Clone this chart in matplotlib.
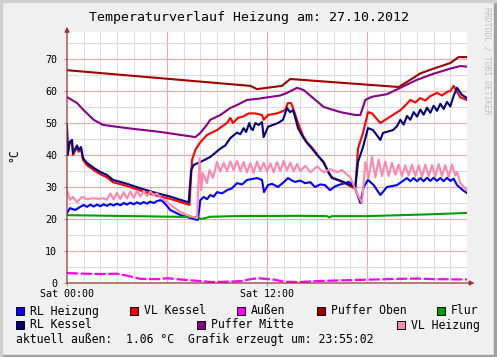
import numpy as np
import matplotlib
matplotlib.use('Agg')
import matplotlib.pyplot as plt
from matplotlib.patches import Rectangle

# Stunden seit Sat 00:00, Temperatur in °C
rl_heizung = np.array([[0,21.9],[0.18,23.4],[0.48,22.8],[0.78,23.75],[1.0,24.4],[1.2,23.8],[1.4,24.5],[1.6,23.9],[1.8,24.5],[2.0,24.0],[2.2,24.6],[2.4,24.1],[2.6,24.7],[2.8,24.2],[3.0,24.8],[3.2,24.3],[3.4,25.0],[3.6,24.5],[3.8,25.1],[4.0,24.6],[4.2,25.2],[4.4,24.7],[4.6,25.3],[4.8,24.8],[5.0,25.4],[5.2,25.0],[5.4,25.6],[5.6,25.9],[5.8,25.3],[6.2,22.8],[6.8,21.25],[7.4,20.3],[7.85,19.7],[8.0,25.9],[8.2,26.9],[8.4,26.2],[8.6,27.5],[8.8,27.0],[9.0,28.4],[9.3,28.0],[9.6,29.0],[9.9,29.6],[10.2,31.2],[10.5,30.8],[10.8,32.2],[11.1,32.5],[11.4,32.8],[11.7,32.2],[11.82,28.4],[12.06,30.6],[12.3,31.0],[12.66,30.0],[13.0,31.5],[13.26,32.8],[13.5,32.0],[13.68,31.6],[14.0,32.0],[14.28,31.2],[14.6,31.5],[14.88,30.0],[15.2,30.8],[15.48,30.6],[15.78,29.0],[16.08,30.2],[16.4,30.8],[16.68,31.2],[16.9,31.6],[17.2,30.6],[17.4,28],[17.6,25],[17.8,30],[18.06,32.2],[18.4,30.6],[18.8,27.5],[19.2,30],[19.8,30.6],[20.4,32.8],[20.6,31.8],[20.8,32.8],[21.0,31.8],[21.2,32.8],[21.4,31.8],[21.6,32.9],[21.8,31.9],[22.0,32.9],[22.2,31.9],[22.4,32.8],[22.6,31.8],[22.8,32.9],[23.0,31.9],[23.2,32.6],[23.4,30.6],[23.75,29],[24.0,28.1]])

vl_kessel = np.array([[0,47.8],[0.05,41],[0.15,43.5],[0.3,44],[0.36,40],[0.5,41.5],[0.6,42.5],[0.7,41],[0.84,42],[0.96,38.5],[1.2,36.8],[1.6,35.3],[2.0,34],[2.4,33],[2.76,31.5],[3.2,30.9],[3.6,30.3],[4.4,28.9],[5.1,27.7],[5.6,27],[6.2,26.3],[6.8,25.3],[7.35,24.4],[7.5,38.4],[7.7,41.6],[8.0,44],[8.4,46.25],[9.0,47.8],[9.6,50],[9.8,51.6],[9.96,50],[10.26,51.6],[10.56,52],[10.9,53],[11.3,53],[11.7,52.5],[11.8,51],[12.06,52.5],[12.4,52.8],[12.66,53.1],[13.08,54],[13.26,56.25],[13.44,56.25],[13.56,54.7],[13.86,50],[14.16,46],[14.4,44],[14.7,42.3],[15.0,40.3],[15.4,37.5],[15.7,34.6],[15.9,33],[16.5,31.6],[17.1,30],[17.3,29.5],[17.46,42],[17.76,46.9],[18.06,53.4],[18.3,53],[18.8,50],[19.4,52],[20.0,54],[20.3,55.5],[20.6,57.2],[20.9,56.4],[21.2,57.8],[21.5,57],[21.8,58.4],[22.2,59.4],[22.5,58.6],[22.8,59.7],[23.0,60],[23.2,61.6],[23.6,58],[24.0,57.2]])

aussen = np.array([[0,3.1],[1,2.9],[2,2.8],[3,2.9],[3.6,2.3],[4.4,1.3],[5.5,1.2],[6,1.5],[7,1.0],[8,0.6],[8.6,0.3],[9.6,0.4],[10.5,0.6],[11,1.2],[11.5,1.5],[12.5,1.0],[13,0.4],[14,0.3],[15,0.6],[17,0.9],[18.5,1.1],[20,1.3],[21,1.4],[22,1.2],[24,1.1]])

puffer_oben = np.array([[0,66.5],[11.0,61.6],[11.4,60.6],[12.0,61],[12.9,61.6],[13.1,62.5],[13.4,63.75],[19.9,61.25],[20.6,63.5],[21.2,65.5],[22.0,67],[23.0,68.75],[23.5,70.6],[24.0,70.6]])

flur = np.array([[0,21.2],[4,20.9],[7.8,20.6],[8.05,20.0],[8.3,20.3],[8.6,20.7],[10,20.9],[14,21.0],[15.6,20.9],[15.75,20.5],[15.9,20.9],[18,20.9],[20,21.2],[22,21.5],[24,21.9]])

rl_kessel = np.array([[0,49.4],[0.05,40],[0.15,44],[0.3,44.7],[0.36,40.6],[0.5,42],[0.6,43],[0.7,41.6],[0.84,42.5],[0.96,39],[1.2,37.5],[1.6,36],[2.0,34.7],[2.4,33.75],[2.76,32.2],[3.2,31.6],[3.6,31],[4.4,29.6],[5.1,28.5],[5.6,27.8],[6.2,27],[6.8,26],[7.3,25.2],[7.45,35.3],[7.6,36.9],[8.0,37.8],[8.6,39.4],[9.2,42],[9.5,43],[9.8,45.3],[10.2,47],[10.4,46.5],[10.6,48.4],[10.75,47.2],[10.94,50],[11.05,48.2],[11.15,47.8],[11.3,50],[11.5,49.4],[11.7,50.3],[11.8,45.6],[12.06,48.8],[12.4,49.5],[12.66,50],[12.96,51],[13.2,54.7],[13.38,53.4],[13.56,54],[13.68,52],[13.86,48.4],[14.16,45.6],[14.4,43.75],[14.7,42],[15.0,40],[15.4,37.8],[15.7,34.4],[15.9,32.8],[16.4,32],[17.0,30.6],[17.3,30],[17.46,37.8],[17.76,42.5],[18.06,48.4],[18.36,47.8],[18.8,44.7],[18.96,46.9],[19.56,47.8],[19.8,49],[20.0,51],[20.2,49.5],[20.4,52.2],[20.6,51],[20.8,53.4],[21.0,52],[21.2,54.2],[21.4,52.6],[21.6,54.8],[21.8,53.2],[22.0,55.4],[22.2,53.8],[22.4,56],[22.6,54.4],[22.8,56.6],[23.0,55.2],[23.2,58.5],[23.4,61],[23.7,58.75],[24.0,57.8]])

puffer_mitte = np.array([[0,58.1],[0.6,56.25],[1.0,54],[1.6,51],[2.16,49.4],[3.6,48.4],[5.6,47.2],[7.7,45.6],[8.0,46.9],[8.3,48.8],[8.6,51],[9.2,52.5],[9.8,54.7],[10.2,55.6],[10.8,57.2],[11.5,57.6],[12.0,58],[12.8,58.6],[13.2,59.4],[13.8,61],[14.2,60.3],[15.4,55],[16.4,53.4],[17.3,52.5],[17.6,52.5],[17.9,57.2],[18.3,58.2],[19.2,59],[20.0,61],[21.0,63.5],[22.0,65.4],[23.0,67],[23.6,67.8],[24.0,67.6]])

vl_heizung = np.array([[0,29],[0.18,26],[0.36,26.9],[0.6,25.3],[0.9,26.9],[1.2,26.2],[1.56,26.5],[1.9,26.3],[2.16,26.5],[2.4,26],[2.6,28],[2.8,26.1],[3.0,28.2],[3.2,26.2],[3.4,28.4],[3.6,26.4],[3.8,28.6],[4.0,26.6],[4.2,28.8],[4.4,27],[4.6,28.8],[4.8,27.2],[5.0,28.6],[5.2,27.4],[5.4,28],[5.6,26.8],[6.2,24.4],[6.8,22.2],[7.4,20.9],[7.8,20.3],[7.95,39],[8.05,29],[8.15,34.4],[8.4,31.2],[8.55,35.3],[8.75,32.8],[9.0,37.8],[9.2,34.8],[9.4,37.6],[9.6,35],[9.8,38],[10.0,35.2],[10.2,38.2],[10.4,35],[10.6,37.8],[10.8,34.6],[11.0,37.4],[11.2,34.4],[11.4,38],[11.6,35],[11.8,37.6],[12.0,34.8],[12.2,37.4],[12.4,34.6],[12.6,37.8],[12.8,35],[13.0,38.2],[13.2,35.2],[13.4,37.6],[13.6,34.8],[13.8,37.2],[14.0,35],[14.3,36.6],[14.6,34.6],[15.0,36.4],[15.4,34.6],[15.8,35.6],[16.2,34.6],[16.5,35.3],[17.0,33],[17.4,28],[17.7,25],[17.9,37.8],[18.1,32.8],[18.3,39.4],[18.5,33],[18.7,38.6],[18.9,33.4],[19.1,38],[19.3,33.4],[19.5,37.6],[19.7,33.8],[19.9,37],[20.1,33.4],[20.3,36.8],[20.5,33.6],[20.7,37],[20.9,33.4],[21.1,36.8],[21.3,33.2],[21.5,37],[21.7,33.4],[21.9,36.8],[22.1,33.2],[22.3,37.2],[22.5,33.4],[22.7,36.8],[22.9,33.2],[23.1,37],[23.3,33.6],[23.4,34.7],[23.6,31.2],[24.0,29]])

namen = ['RL Heizung', 'VL Kessel', 'Außen', 'Puffer Oben', 'Flur',
         'RL Kessel', 'Puffer Mitte', 'VL Heizung']
farben = ['#0000ff', '#ff0000', '#ff00ff', '#a00000', '#00a000',
          '#000080', '#880088', '#ff88aa']
serien = [rl_heizung, vl_kessel, aussen, puffer_oben, flur,
          rl_kessel, puffer_mitte, vl_heizung]

mono = 'DejaVu Sans Mono'
W, H = 497, 357
fig = plt.figure(figsize=(W/100, H/100), dpi=100, facecolor='#f0f0f0')

# 3D Rahmen wie rrdtool
fig.patches.append(Rectangle((0, 0), 1, 2/H, transform=fig.transFigure, color='#a0a0a0', zorder=0))
fig.patches.append(Rectangle((1-3/W, 0), 3/W, 1, transform=fig.transFigure, color='#a0a0a0', zorder=0))
fig.patches.append(Rectangle((0, 1-2/H), 1, 2/H, transform=fig.transFigure, color='#d0d0d0', zorder=0))
fig.patches.append(Rectangle((0, 0), 2/W, 1, transform=fig.transFigure, color='#d0d0d0', zorder=0))

x0, x1, y0, y1 = 67, 467, 283, 32
ax = fig.add_axes([x0/W, 1-y0/H, (x1-x0)/W, (y0-y1)/H])
ymax = (y0-y1)/3.2
ax.set_xlim(0, 24)
ax.set_ylim(0, ymax)
ax.set_facecolor('white')
for s in ax.spines.values():
    s.set_visible(False)

##Gitter
for h in range(1, 25):
    c = '#f2a8a8' if h % 6 == 0 else '#dcdcdc'
    ax.axvline(h, color=c, lw=0.8, zorder=1)
for v in range(5, int(ymax)+1, 5):
    c = '#f2a8a8' if v % 10 == 0 else '#dcdcdc'
    ax.axhline(v, color=c, lw=0.8, zorder=1)

for d, c in zip(serien, farben):
    if c == '#ff00ff':
        ax.plot(d[:, 0], d[:, 1], color=c, lw=1.6, dashes=(5, 1.2), zorder=3)
    else:
        ax.plot(d[:, 0], d[:, 1], color=c, lw=1.5, zorder=3)

# Achsen mit Pfeilen
ac = '#993333'
ax.annotate('', xy=(24.45, 0), xytext=(0, 0), annotation_clip=False,
            arrowprops=dict(arrowstyle='-|>', color=ac, lw=0.9, mutation_scale=7, shrinkA=0, shrinkB=0), zorder=5)
ax.annotate('', xy=(0, ymax+1.6), xytext=(0, 0), annotation_clip=False,
            arrowprops=dict(arrowstyle='-|>', color=ac, lw=0.9, mutation_scale=7, shrinkA=0, shrinkB=0), zorder=5)

ax.set_yticks(range(0, 80, 10))
ax.set_yticklabels([str(v) for v in range(0, 80, 10)], fontfamily=mono, fontsize=7.2)
ax.set_xticks([0, 12])
ax.set_xticklabels(['Sat 00:00', 'Sat 12:00'], fontfamily=mono, fontsize=7.2)
ax.tick_params(axis='both', length=2, color='#999999', pad=2, colors='black')
ax.tick_params(axis='y', pad=5)

fig.text(249/W, 1-17/H, 'Temperaturverlauf Heizung am: 27.10.2012', fontfamily=mono,
         fontsize=9.5, ha='center', va='center')
fig.text(14/W, 1-155/H, '°C', fontfamily=mono, fontsize=8.3, rotation=90,
         ha='center', va='center')
fig.text(487/W, 1-7/H, 'RRDTOOL / TOBI OETIKER', fontfamily=mono, fontsize=5.8,
         rotation=270, ha='center', va='top', color='#c0c0c0')

# Legende
pos = [(16, 311), (130, 311), (237, 311), (317, 311), (437, 311),
       (16, 325), (197, 325), (397, 325)]
for (px, py), n, c in zip(pos, namen, farben):
    fig.patches.append(Rectangle((px/W, 1-(py+4)/H), 8/W, 8/H, transform=fig.transFigure,
                                 facecolor=c, edgecolor='black', lw=0.7, zorder=2))
    fig.text((px+14)/W, 1-py/H, n, fontfamily=mono, fontsize=8.3, ha='left', va='center')

fig.text(16/W, 1-339/H, 'aktuell außen:  1.06 °C  Grafik erzeugt um: 23:55:02',
         fontfamily=mono, fontsize=8.3, ha='left', va='center')

plt.savefig('out.png', dpi=100, facecolor=fig.get_facecolor())
